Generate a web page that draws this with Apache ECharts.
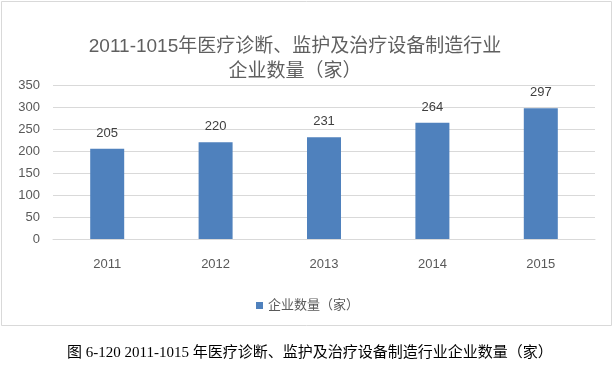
<!DOCTYPE html>
<html>
<head>
<meta charset="utf-8">
<script src="https://cdn.jsdelivr.net/npm/echarts@6/dist/echarts.min.js"></script>
<style>
html,body{margin:0;padding:0;background:#fff;}
#c{width:615px;height:367px;}
</style>
</head>
<body>
<div id="c"></div>
<script>
var categories = ['2011', '2012', '2013', '2014', '2015'];
var values = [205, 220, 231, 264, 297];
var seriesName = '企业数量（家）';
var titleLines = ['2011-1015年医疗诊断、监护及治疗设备制造行业', '企业数量（家）'];
var caption = '图 6-120 2011-1015 年医疗诊断、监护及治疗设备制造行业企业数量（家）';
var yMin = 0, yMax = 350, yStep = 50;

var chart = echarts.init(document.getElementById('c'), null, {renderer: 'canvas'});
var numFont = "'Liberation Sans', 'Noto Sans CJK SC', sans-serif";
chart.setOption({
  animation: false,
  backgroundColor: '#ffffff',
  title: {
    text: titleLines.join('\n'),
    left: 290,
    top: 29,
    textAlign: 'center',
    textStyle: {
      fontFamily: numFont,
      fontSize: 19,
      fontWeight: 'normal',
      color: '#5f5f5f',
      lineHeight: 25
    }
  },
  graphic: [
    {
      type: 'rect',
      shape: {x: 1.5, y: 1.5, width: 610, height: 324},
      style: {fill: 'none', stroke: '#d9d9d9', lineWidth: 1},
      z: -1
    },
    {
      type: 'text',
      left: 67,
      top: 346,
      style: {
        text: caption,
        fill: '#000000',
        font: "15px 'Liberation Serif', 'Noto Sans CJK SC', serif"
      }
    }
  ],
  legend: {
    data: [seriesName],
    left: 'center',
    top: 294,
    itemWidth: 7,
    itemHeight: 7,
    icon: 'rect',
    itemGap: 10,
    textStyle: {fontFamily: numFont, fontSize: 13, color: '#595959'}
  },
  grid: {left: 53, right: 20, top: 85, bottom: 128, containLabel: false},
  xAxis: {
    type: 'category',
    data: categories,
    axisLine: {show: true, lineStyle: {color: '#d9d9d9'}},
    axisTick: {show: false},
    axisLabel: {margin: 19, color: '#595959', fontSize: 13, fontFamily: numFont}
  },
  yAxis: {
    type: 'value',
    min: yMin,
    max: yMax,
    interval: yStep,
    axisLine: {show: false},
    axisTick: {show: false},
    axisLabel: {margin: 13, color: '#595959', fontSize: 13, fontFamily: numFont},
    splitLine: {lineStyle: {color: '#d9d9d9'}}
  },
  series: [{
    name: seriesName,
    type: 'bar',
    data: values,
    barWidth: 34,
    itemStyle: {color: '#4f81bd'},
    label: {show: true, position: 'top', distance: 9, color: '#404040', fontSize: 13, fontFamily: numFont}
  }]
});
</script>
</body>
</html>
